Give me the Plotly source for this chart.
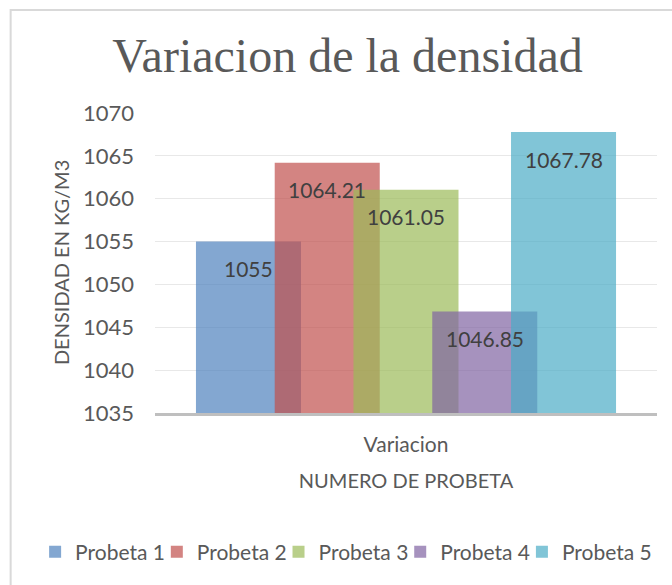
import plotly.graph_objects as go

# Density measured for each test specimen (kg/m3)
probetas = ["Probeta 1", "Probeta 2", "Probeta 3", "Probeta 4", "Probeta 5"]
densidad = [1055, 1064.21, 1061.05, 1046.85, 1067.78]
categoria = ["Variacion"]
y_ticks = [1035, 1040, 1045, 1050, 1055, 1060, 1065, 1070]

colores = [
    "rgba(79,129,189,0.7)",
    "rgba(192,80,77,0.7)",
    "rgba(155,187,89,0.7)",
    "rgba(128,100,162,0.7)",
    "rgba(75,172,198,0.7)",
]

W, H = 672, 585
M_L, M_R, M_T, M_B = 155, 14.5, 113, 172
PLOT_W = W - M_L - M_R
PLOT_H = H - M_T - M_B


def px_x(px):
    return (px - M_L) / PLOT_W


def px_y(py):
    return (H - M_B - py) / PLOT_H


# Office-style clustered bars: 78% gap width, 25% overlap
GAP = 0.78
OVERLAP = 0.25
n = len(probetas)
bar_w = 1.0 / (n - (n - 1) * OVERLAP + GAP)
step = bar_w * (1 - OVERLAP)
centros = [(i - (n - 1) / 2) * step for i in range(n)]

SANS = "Lato"
GRIS = "#595959"
ENTRY_W = 76.7

fig = go.Figure()
for i, (nombre, val, col, c) in enumerate(zip(probetas, densidad, colores, centros)):
    fig.add_trace(go.Bar(
        name=nombre,
        x=categoria,
        y=[val - y_ticks[0]],
        base=[y_ticks[0]],
        offset=c - bar_w / 2,
        width=bar_w,
        marker=dict(color=col, line=dict(width=0)),
        hoverinfo="name+y",
        # the last entry gets room for its full label
        legendwidth=(100 if i == n - 1 else None),
    ))
    # value label just inside the top of each bar
    fig.add_annotation(
        x=c, y=val, xref="x", yref="y",
        text=f"{val:g}", showarrow=False,
        yanchor="middle", xanchor="center", yshift=-27,
        font=dict(family=SANS, size=21, color="#404040"),
    )

# vertical axis title
fig.add_annotation(
    x=px_x(61), y=0.5, xref="paper", yref="paper",
    text="DENSIDAD EN KG/M3", textangle=-90, showarrow=False,
    xanchor="center", yanchor="middle",
    font=dict(family=SANS, size=20, color=GRIS),
)

# chart frame
fig.add_shape(
    type="rect", xref="paper", yref="paper",
    x0=px_x(10.5), x1=px_x(700),
    y0=px_y(600), y1=px_y(10),
    line=dict(color="#D9D9D9", width=2), layer="below",
)

fig.update_layout(
    width=W, height=H, autosize=False,
    margin=dict(l=M_L, r=M_R, t=M_T, b=M_B),
    paper_bgcolor="white", plot_bgcolor="white",
    barmode="overlay",
    title=dict(
        text="Variacion de la densidad",
        font=dict(family="Liberation Serif", size=48, color=GRIS),
        x=347.5 / W, xanchor="center", xref="container",
        y=1 - 55 / H, yanchor="middle", yref="container",
    ),
    showlegend=True,
    legend=dict(
        orientation="h",
        xref="paper", yref="paper",
        x=px_x(35), xanchor="left",
        y=px_y(552), yanchor="middle",
        font=dict(family=SANS, size=21, color=GRIS),
        entrywidth=ENTRY_W, entrywidthmode="pixels",
        itemclick=False, itemdoubleclick=False,
        bgcolor="rgba(0,0,0,0)",
    ),
    font=dict(family=SANS, color=GRIS),
)

fig.update_xaxes(
    type="category",
    range=[-0.5, 0.5],
    showgrid=False, zeroline=False,
    showline=True, linecolor="#BFBFBF", linewidth=3,
    ticks="", ticklabelstandoff=11,
    tickfont=dict(family=SANS, size=21, color=GRIS),
    title=dict(text="NUMERO DE PROBETA", standoff=19,
               font=dict(family=SANS, size=20, color=GRIS)),
)

fig.update_yaxes(
    range=[y_ticks[0], y_ticks[-1]],
    tickvals=y_ticks,
    showgrid=True, gridcolor="#E8E8E8", gridwidth=1,
    zeroline=False, showline=False,
    ticks="", ticklabelstandoff=20,
    tickfont=dict(family=SANS, size=22, color=GRIS),
)

fig.write_html("out.html")
